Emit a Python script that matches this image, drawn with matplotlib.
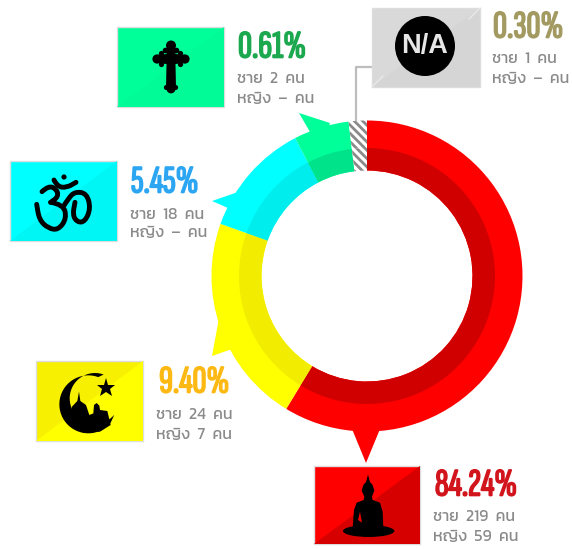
import matplotlib
matplotlib.use("Agg")
import numpy as np
import matplotlib.pyplot as plt
import matplotlib.patheffects as pe
from matplotlib.patches import Rectangle, Polygon, Circle, Ellipse, PathPatch
from matplotlib.path import Path

# Data, clockwise from 12 o'clock
religions = ["buddhist", "muslim", "hindu", "christian", "na"]
percent_labels = ["84.24%", "9.40%", "5.45%", "0.61%", "0.30%"]
male_counts = ["219", "24", "18", "2", "1"]
female_counts = ["59", "7", "–", "–", "–"]
# the ring is not drawn to scale in the original, these are the arc sizes as seen
arc_sizes = [211.3, 78.3, 42.9, 20.7, 6.8]

outer_colors = ["#FF0000", "#FFFF00", "#00FFFF", "#00FF99", "#FFFFFF"]
inner_colors = ["#D10000", "#F2EC00", "#00EDED", "#00E38A", "#FFFFFF"]
percent_colors = ["#D2141C", "#FDB913", "#2CA6F2", "#1CA84F", "#A39A62"]
text_grey = "#8A8A8A"

PERCENT_FONT = ["Sofia Sans Extra Condensed", "DejaVu Sans"]
THAI_FONT = ["Kanit", "DejaVu Sans"]

fig = plt.figure(figsize=(5.72, 5.49), dpi=100)
ax = fig.add_axes([0, 0, 1, 1])

# Ring: y axis is flipped below, so counterclock=True runs clockwise on screen
center = (367, 276)
plt.rcParams["hatch.linewidth"] = 2.0
outer, _ = ax.pie(arc_sizes, colors=outer_colors, radius=155.5, center=center,
                  startangle=-90, counterclock=True,
                  wedgeprops=dict(width=50, linewidth=0))
inner, _ = ax.pie(arc_sizes, colors=inner_colors, radius=128, center=center,
                  startangle=-90, counterclock=True,
                  wedgeprops=dict(width=22.5, linewidth=0))
for w in (outer[-1], inner[-1]):
    w.set_facecolor("#FFFFFF")
    w.set_edgecolor("#8A8A8A")
    w.set_hatch("\\\\\\\\")
    w.set_linewidth(0)

ax.set_xlim(0, 572)
ax.set_ylim(549, 0)
ax.set_aspect("equal")
ax.axis("off")

# Pointers from the ring to each box
pointers = {
    "buddhist": [(352, 429), (366, 463), (380, 429), (366, 415)],
    "muslim": [(219, 318), (212, 356), (232, 349), (245, 340), (235, 322)],
    "hindu": [(238, 192), (212, 201), (228, 208), (245, 215)],
    "christian": [(330, 123), (299, 113), (310, 132), (325, 140)],
}
for name, c in zip(religions, outer_colors):
    if name in pointers:
        ax.add_patch(Polygon(pointers[name], closed=True, fc=c, lw=0, zorder=2))

# Boxes: x, y, w, h and the colours either side of the diagonal
boxes = {
    "buddhist": (314, 466, 106, 78, "#FF0000", "#D60000"),
    "muslim": (36, 361, 107, 80, "#F7F000", "#FFFF00"),
    "hindu": (10, 161, 107, 80, "#00FFFF", "#00F5F5"),
    "christian": (117, 27, 107, 80, "#00FF99", "#00FB97"),
    "na": (372, 8, 108, 79, "#D9D9D9", "#D5D5D5"),
}
for name, (x, y, w, h, c1, c2) in boxes.items():
    ax.add_patch(Rectangle((x, y), w, h, fc=c1, ec="#DDDDDD", lw=1, zorder=3))
    ax.add_patch(Polygon([(x, y + h), (x + w, y), (x + w, y + h)], closed=True,
                         fc=c2, lw=0, zorder=3))

# N/A box details and leader line
ax.plot([372, 356, 356], [67, 67, 120], color="#BDBDBD", lw=1.6, zorder=1)
ax.plot([372, 383], [87, 76], color="#E8E8E8", lw=1, zorder=3)
ax.plot([480, 469], [8, 19], color="#E8E8E8", lw=1, zorder=3)
ax.add_patch(Circle((425, 46), 30, fc="black", lw=0, zorder=4))
ax.text(425, 46.5, "N/A", color="#E6E6E6", fontsize=19.5, fontweight="bold",
        family=["Liberation Sans"], ha="center", va="center", zorder=5)


def smooth(points):
    # quadratic spline through the midpoints of the control points
    pts = np.array(points, dtype=float)
    verts = [pts[0]]
    codes = [Path.MOVETO]
    for i in range(1, len(pts) - 1):
        verts += [pts[i], (pts[i] + pts[i + 1]) / 2]
        codes += [Path.CURVE3, Path.CURVE3]
    verts += [pts[-1]]
    codes += [Path.LINETO]
    return Path(verts, codes)


def crop(points, ox, oy):
    return [(ox + px / 3, oy + py / 3) for px, py in points]


# Cross
ax.add_patch(Polygon([(167, 44), (175, 44), (175.5, 54), (186, 55), (186, 63), (175.5, 64),
                      (176, 88), (166, 88), (166.5, 64), (156, 63), (156, 55), (166.5, 54)],
                     closed=True, fc="black", lw=0, zorder=4))
for cx, cy, r in [(171, 45.5, 5), (165.5, 50.5, 2.8), (176.5, 50.5, 2.8),
                  (157, 59, 4.6), (161.5, 53.5, 2.6), (161.5, 64.5, 2.6),
                  (185, 59, 4.6), (180.5, 53.5, 2.6), (180.5, 64.5, 2.6),
                  (171, 89, 4.4), (166.5, 87.5, 2.6), (175.5, 87.5, 2.6)]:
    ax.add_patch(Circle((cx, cy), r, fc="black", lw=0, zorder=4))

# Om
om_strokes = [
    [(66, 80), (85, 62), (110, 72), (115, 95), (92, 112)],
    [(92, 112), (130, 118), (140, 160), (115, 195), (85, 190), (58, 165), (50, 118)],
    [(130, 125), (145, 100), (165, 80), (200, 85), (212, 130), (195, 170), (172, 172), (158, 150), (165, 112)],
    [(102, 45), (112, 65), (140, 68), (168, 52)],
]
for s in om_strokes:
    ax.add_patch(PathPatch(smooth(crop(s, 20, 165)), fc="none", ec="black", lw=3.5,
                           capstyle="round", zorder=4))
ax.add_patch(Circle((20 + 132 / 3, 165 + 36 / 3), 2.6, fc="black", lw=0, zorder=4))

# Crescent, star and mosque
cres_o = np.radians(np.linspace(-70, -320, 40))
cres_i = np.radians(np.linspace(-320, -70, 40))
outer_arc = [(115 + 87 * np.cos(t), 118 + 87 * np.sin(t)) for t in cres_o]
inner_arc = [(135 + 76 * np.cos(t), 100 + 76 * np.sin(t)) for t in cres_i]
ax.add_patch(Polygon(crop(outer_arc + inner_arc, 50, 365), closed=True, fc="black", lw=0, zorder=4))
ax.plot([50 + 168 / 3], [365 + 68 / 3], marker="*", ms=14, color="black", mew=0, zorder=4)
mosque = [(62, 150), (66, 125), (82, 108), (87, 80), (91, 108), (108, 120), (118, 150),
          (130, 145), (132, 120), (140, 114), (148, 122), (150, 135), (172, 138), (182, 180),
          (150, 200), (100, 203), (70, 185)]
ax.add_patch(Polygon(crop(mosque, 50, 365), closed=True, fc="black", lw=0, zorder=4))

# Buddha
body = [(114, 14), (120, 36), (128, 45), (133, 62), (126, 80), (128, 90), (150, 98),
        (158, 125), (160, 175), (68, 175), (72, 120), (80, 98), (101, 90), (103, 80),
        (95, 62), (100, 45), (108, 36)]
ax.add_patch(Polygon(crop(body, 330, 470), closed=True, fc="black", lw=0, zorder=4))
ax.add_patch(Ellipse((330 + 116 / 3, 470 + 183 / 3), 154 / 3, 36 / 3, fc="black", lw=0, zorder=4))
ax.add_patch(Polygon(crop([(90, 125), (84, 150), (96, 158)], 330, 470), closed=True,
                     fc="#F00000", lw=0, zorder=4))

# Percent and head-count labels: percent x, y, then count x, y of the two lines
label_pos = {
    "buddhist": (435, 486, 433, 517, 537),
    "muslim": (159, 383, 156, 415, 435),
    "hindu": (131, 183, 130, 215, 233),
    "christian": (238, 48, 237, 79, 99),
    "na": (493, 28, 492, 59, 79),
}
for name, pct, col, m, f in zip(religions, percent_labels, percent_colors, male_counts, female_counts):
    px, py, tx, y1, y2 = label_pos[name]
    t = ax.text(px, py, pct, color=col, fontsize=28, family=PERCENT_FONT,
                ha="left", va="center", zorder=5)
    t.set_path_effects([pe.withStroke(linewidth=1.2, foreground=col)])
    ax.text(tx, y1, f"ชาย  {m}  คน", color=text_grey, fontsize=11.5, family=THAI_FONT,
            ha="left", va="center", zorder=5)
    ax.text(tx, y2, f"หญิง  {f}  คน", color=text_grey, fontsize=11.5, family=THAI_FONT,
            ha="left", va="center", zorder=5)

fig.savefig("out.png", dpi=100)
